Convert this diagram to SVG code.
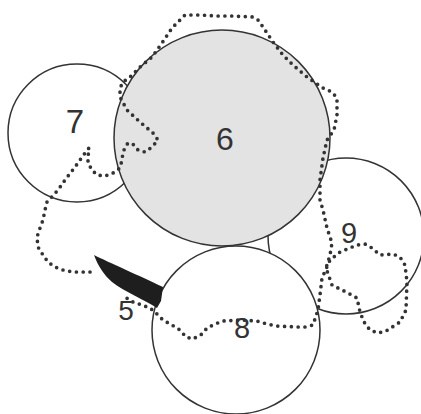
<svg xmlns="http://www.w3.org/2000/svg" width="421" height="414" viewBox="0 0 421 414">
<style>
.c{stroke:#333;stroke-width:1.5;fill:#fff}
.g{fill:#e3e3e3}
.d{fill:none;stroke:#333;stroke-width:3.7;stroke-dasharray:0 6.8;stroke-linecap:round;stroke-linejoin:round}
.t{font-family:"Liberation Sans",Arial,sans-serif;fill:#333;text-anchor:middle}
</style>
<rect width="421" height="414" fill="#fff"/>
<g id="n9"><circle class="c" cx="346" cy="236" r="78"/></g>
<g id="n8"><circle class="c" cx="236" cy="330" r="84"/></g>
<g id="n7"><circle class="c" cx="77" cy="133" r="69"/></g>
<g id="n6"><circle class="c g" cx="222" cy="138" r="108"/></g>
<g id="connectors">
<path class="d" d="M90,272 L73,272 L63,270 L55,267 L48,262 L43,255 L38,247 L37,237 L40,228 L43,220 L45,210 L47,202 L58,190 L65,180 L75,167 L85,153 L89,148 L88,157 L88,163 L92,170 L97,175 L105,176 L113,173 L120,168 L122,160 L123,152 L127,144 L132,143 L138,150 L145,152 L152,147 L158,140 L153,133 L140,122 L127,110 L120,97 L120,88 L123,82 L130,77 L140,67 L152,57 L162,43 L172,28 L178,22 L185,15 L200,15 L217,16 L233,16 L253,17 L258,20 L263,27 L273,42 L283,55 L293,65 L307,77 L323,88 L332,92 L337,98 L337,115 L334,130 L327,140 L323,158 L320,180 L320,200 L323,210 L327,228 L332,243 L330,255 L326,268 L332,285 L348,293 L357,298 L360,312 L364,322 L370,330 L378,333 L386,331 L400,322 L406,310 L407,282 L405,265 L400,257 L393,254 L380,255 L372,248 L365,244 L357,245 L340,252 L330,260 L322,278 L320,295 L318,310 L313,325 L305,327 L297,327 L277,326 L267,324 L257,321 L240,320 L223,321 L215,324 L207,328 L202,334 L193,339 L186,337 L180,330 L172,325 L163,320 L155,312 L150,308 L142,305 L133,302 L125,297"/>
<path id="n5-wedge" d="M94,255 C108,262 140,276 163,287 L161,301 L157,308 C145,300 125,292 112,282 C104,275 98,266 94,255 Z" fill="#1e1e1e"/>
</g>
<g id="labels">
<text class="t" x="75" y="133" font-size="33">7</text>
<text class="t" x="225" y="150" font-size="32">6</text>
<text class="t" x="349" y="243" font-size="29">9</text>
<text class="t" x="242" y="338" font-size="29">8</text>
<text class="t" x="126" y="320" font-size="28">5</text>
</g>
</svg>
